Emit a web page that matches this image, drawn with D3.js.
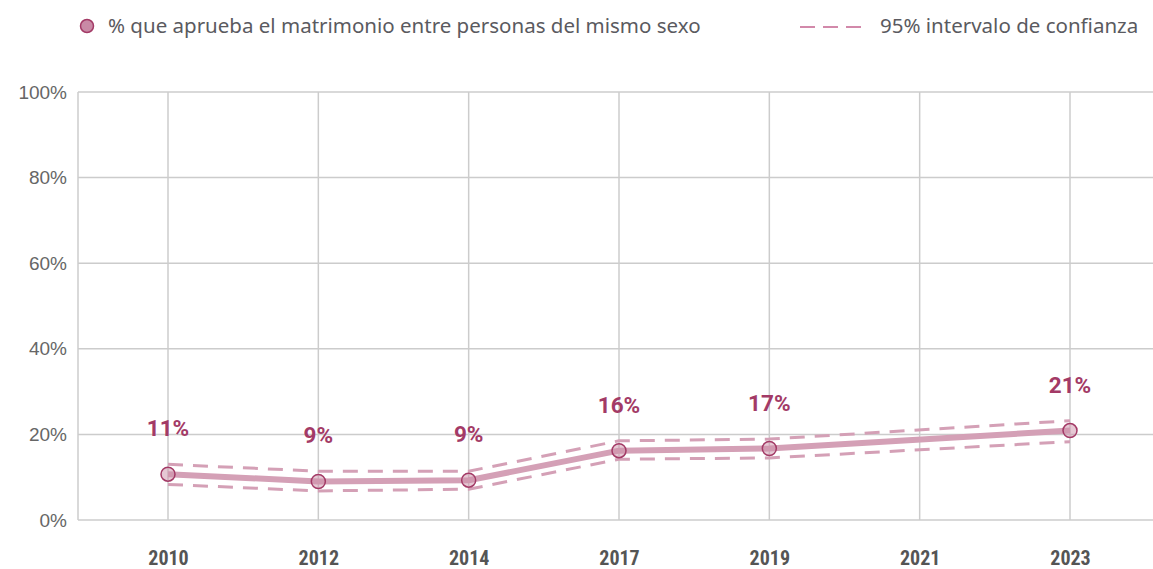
<!DOCTYPE html>
<html>
  <head>
    <meta charset="UTF-8">
    <style>
      body {
        margin: 0;
        background: white;
        font-family: Roboto, "Noto Sans", sans-serif;
      }

      .y-axis text {
        fill: #666;
        font-size: 19px;
      }

      .x-axis text {
        fill: #555;
        font-size: 20px;
        font-weight: bold;
        font-family: "Liberation Sans Narrow", "Roboto Condensed", Roboto, sans-serif;
      }

      .grid line {
        stroke: #ccc;
        stroke-width: 1.5;
      }

      .legend text {
        fill: #5a5a60;
        font-size: 20.5px;
        font-family: "Noto Sans", "Open Sans", sans-serif;
      }
    </style>
    <script src="https://d3js.org/d3.v7.min.js"></script>
  </head>

  <body>
    <svg id="chart"></svg>

    <script type="text/javascript">
      let years = ['2010', '2012', '2014', '2017', '2019', '2021', '2023']
      let approve = [10.7, 9.0, 9.3, 16.2, 16.7, null, 20.9]
      let upper = [13.0, 11.4, 11.4, 18.5, 18.9, null, 23.2]
      let lower = [8.3, 6.8, 7.2, 14.2, 14.5, null, 18.3]
      let labels = ['11%', '9%', '9%', '16%', '17%', '', '21%']
      let yTicks = [0, 20, 40, 60, 80, 100]

      let legendLabels = ['% que aprueba el matrimonio entre personas del mismo sexo', '95% intervalo de confianza']

      let lineColor = '#d4a0b6'
      let darkColor = '#a33a66'

      function getChartConfig() {
        let width = 1153
        let height = 569
        let frame = { left: 78, right: 1153, top: 92, bottom: 520 }

        let container = d3.select('#chart')
          .attr('width', width)
          .attr('height', height)

        return { width, height, frame, container }
      }

      function getChartScales(config) {
        let xScale = d3.scalePoint()
          .domain(years)
          .range([168, 1070])

        let yScale = d3.scaleLinear()
          .domain([0, 100])
          .range([config.frame.bottom, config.frame.top])

        return { xScale, yScale }
      }

      function drawGrid(scales, config) {
        let f = config.frame
        let g = config.container.append('g').attr('class', 'grid')

        g.selectAll('.h')
          .data(yTicks)
          .join('line')
            .attr('x1', f.left)
            .attr('x2', f.right)
            .attr('y1', d => scales.yScale(d))
            .attr('y2', d => scales.yScale(d))

        g.selectAll('.v')
          .data(years)
          .join('line')
            .attr('x1', d => scales.xScale(d))
            .attr('x2', d => scales.xScale(d))
            .attr('y1', f.top)
            .attr('y2', f.bottom)

        g.append('line')
          .attr('x1', f.left)
          .attr('x2', f.left)
          .attr('y1', f.top)
          .attr('y2', f.bottom)
      }

      function drawAxes(scales, config) {
        let axisY = d3.axisLeft(scales.yScale)
          .tickValues(yTicks)
          .tickFormat(d => d + '%')
          .tickSize(0)
          .tickPadding(11)

        config.container.append('g')
          .attr('class', 'y-axis')
          .attr('transform', `translate(${config.frame.left}, 0)`)
          .call(axisY)
          .call(g => g.select('.domain').remove())

        let axisX = d3.axisBottom(scales.xScale)
          .tickSize(0)
          .tickPadding(31)

        config.container.append('g')
          .attr('class', 'x-axis')
          .attr('transform', `translate(0, ${config.frame.bottom})`)
          .call(axisX)
          .call(g => g.select('.domain').remove())
      }

      function drawSeries(scales, config) {
        let points = years.map((year, i) => ({
          year, value: approve[i], upper: upper[i], lower: lower[i], label: labels[i]
        })).filter(d => d.value !== null)

        let g = config.container.append('g')

        let line = key => d3.line()
          .x(d => scales.xScale(d.year))
          .y(d => scales.yScale(d[key]))

        ;['upper', 'lower'].forEach(key => {
          g.append('path')
            .datum(points)
            .attr('d', line(key))
            .attr('fill', 'none')
            .attr('stroke', lineColor)
            .attr('stroke-width', 3)
            .attr('stroke-dasharray', '15 10')
        })

        g.append('path')
          .datum(points)
          .attr('d', line('value'))
          .attr('fill', 'none')
          .attr('stroke', lineColor)
          .attr('stroke-width', 6)
          .attr('stroke-linejoin', 'round')

        g.selectAll('circle')
          .data(points)
          .join('circle')
            .attr('cx', d => scales.xScale(d.year))
            .attr('cy', d => scales.yScale(d.value))
            .attr('r', 7)
            .attr('fill', 'rgba(205, 145, 170, 0.5)')
            .attr('stroke', darkColor)
            .attr('stroke-width', 1.5)

        g.selectAll('.label')
          .data(points)
          .join('text')
            .attr('x', d => scales.xScale(d.year))
            .attr('y', d => scales.yScale(d.value) - 38)
            .attr('text-anchor', 'middle')
            .attr('fill', darkColor)
            .style('font-size', '22.5px')
            .style('font-weight', 'bold')
            .text(d => d.label)
      }

      function drawLegend(config) {
        let g = config.container.append('g').attr('class', 'legend')

        g.append('circle')
          .attr('cx', 87)
          .attr('cy', 26)
          .attr('r', 6.5)
          .attr('fill', '#c98aa6')
          .attr('stroke', darkColor)
          .attr('stroke-width', 1.5)

        g.append('text')
          .attr('x', 108)
          .attr('y', 33)
          .text(legendLabels[0])

        g.append('line')
          .attr('x1', 800)
          .attr('x2', 862)
          .attr('y1', 27)
          .attr('y2', 27)
          .attr('stroke', '#c4638e')
          .attr('stroke-width', 1.5)
          .attr('stroke-dasharray', '15 8')

        g.append('text')
          .attr('x', 880)
          .attr('y', 33)
          .text(legendLabels[1])
      }

      let config = getChartConfig()
      let scales = getChartScales(config)
      drawGrid(scales, config)
      drawAxes(scales, config)
      drawSeries(scales, config)
      drawLegend(config)
    </script>
  </body>
</html>
